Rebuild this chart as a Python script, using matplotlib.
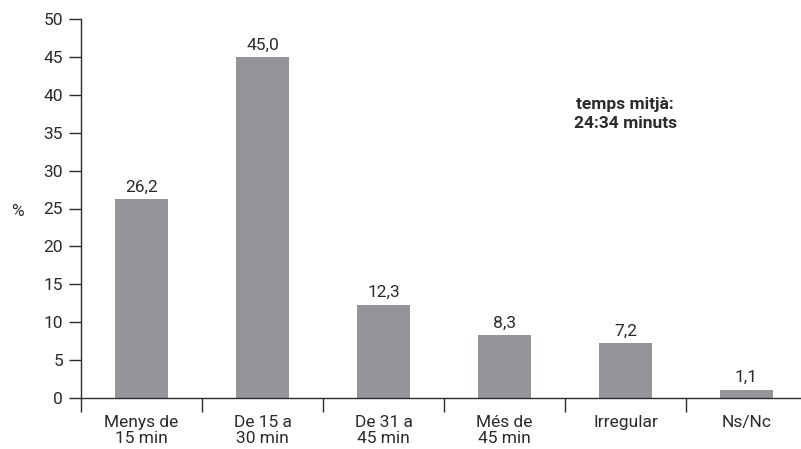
import matplotlib
matplotlib.use("Agg")
import matplotlib.pyplot as plt
import numpy as np

categories = ["Menys de\n15 min", "De 15 a\n30 min", "De 31 a\n45 min", "Més de\n45 min", "Irregular", "Ns/Nc"]
values = [26.2, 45.0, 12.3, 8.3, 7.2, 1.1]
yticks = [0, 5, 10, 15, 20, 25, 30, 35, 40, 45, 50]

plt.rcParams['font.family'] = ['Roboto', 'DejaVu Sans']
W, H = 801, 449
fig = plt.figure(figsize=(W/100, H/100), dpi=100)
ax = fig.add_axes([81/W, (H-398)/H, (807-81)/W, (398-19)/H])

bar_color = "#939598"
text_color = "#2b2b2b"
fs = 12.5
x = np.arange(len(categories))
ax.bar(x, values, width=0.44, color=bar_color, zorder=2)
for xi, v in zip(x, values):
    ax.text(xi, v + 0.6, f"{v:.1f}".replace(".", ","), ha="center", va="bottom",
            fontsize=fs, color=text_color)

ax.set_xlim(-0.5, len(categories) - 0.5)
ax.set_ylim(0, 50)
ax.set_yticks(yticks)
ax.set_yticklabels([str(t) for t in yticks], fontsize=fs, color=text_color)
ax.tick_params(axis='y', direction='out', length=9, width=1, color=text_color, pad=4)

ax.set_xticks(np.arange(-0.5, len(categories) - 0.5, 1.0))
ax.set_xticklabels([])
ax.set_xticks(x, minor=True)
ax.set_xticklabels(categories, minor=True, fontsize=fs, color=text_color, linespacing=1.15)
ax.tick_params(axis='x', which='major', direction='out', length=10, width=1, color=text_color)
ax.tick_params(axis='x', which='minor', length=0, pad=12)

for s in ["top", "right"]:
    ax.spines[s].set_visible(False)
for s in ["left", "bottom"]:
    ax.spines[s].set_color(text_color)
    ax.spines[s].set_linewidth(1)

fig.text(17/W, 1 - 211/H, "%", ha="center", va="center", fontsize=fs, color=text_color)
fig.text(625/W, 1 - 114/H, "temps mitjà:\n24:34 minuts", ha="center", va="center",
         fontsize=fs, fontweight="bold", color=text_color, linespacing=1.3)

fig.savefig("out.png", dpi=100)
